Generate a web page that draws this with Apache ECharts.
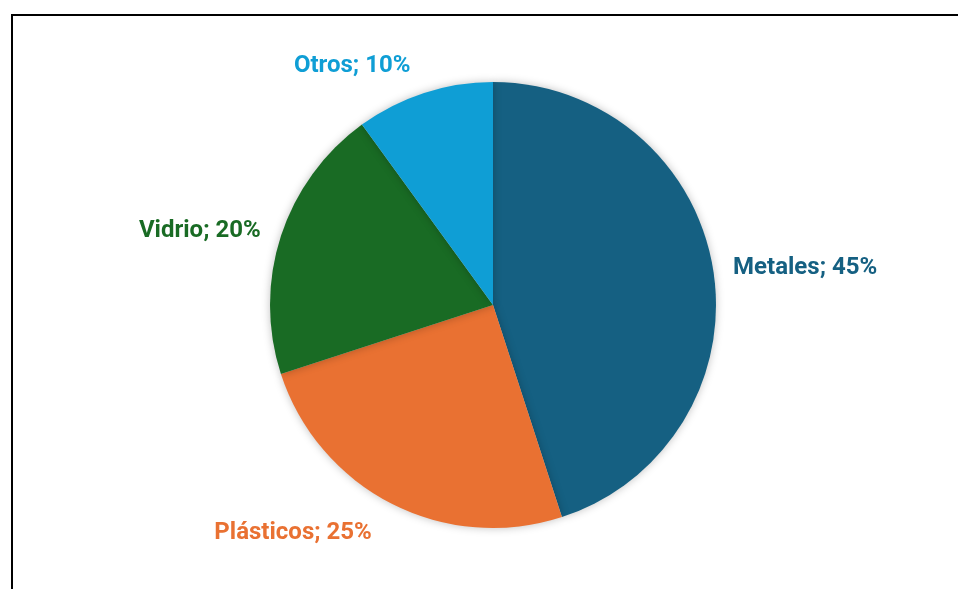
<!DOCTYPE html>
<html>
<head>
<meta charset="utf-8">
<script src="https://cdn.jsdelivr.net/npm/echarts@6/dist/echarts.min.js"></script>
<style>
  html, body { margin: 0; padding: 0; background: #fff; overflow: hidden; }
  #frame { position: absolute; left: 11px; top: 14px; width: 1000px; height: 640px; border: 2px solid #000; box-sizing: border-box; }
  #chart { position: absolute; left: 0; top: 0; width: 958px; height: 589px; }
</style>
</head>
<body>
<div id="frame"></div>
<div id="chart"></div>
<script>
// Composition by material (share of total, %)
const categories = ['Metales', 'Plásticos', 'Vidrio', 'Otros'];
const shares = [45, 25, 20, 10];
const colors = ['#156082', '#E97132', '#196B24', '#0F9ED5'];
// radial offset of each label from the rim
const labelGap = [15, 33, 16, 28];

const chart = echarts.init(document.getElementById('chart'));
chart.setOption({
  animation: false,
  series: [{
    type: 'pie',
    center: [493, 305],
    radius: 223,
    startAngle: 90,
    clockwise: true,
    data: categories.map((name, i) => ({
      name,
      value: shares[i],
      itemStyle: { color: colors[i] },
      label: { color: colors[i] },
      labelLine: { length: labelGap[i], length2: 0 }
    })),
    itemStyle: {
      shadowBlur: 8,
      shadowColor: 'rgba(0,0,0,0.25)'
    },
    label: {
      show: true,
      position: 'outside',
      formatter: p => p.name + '; ' + p.value + '%',
      fontFamily: 'Roboto',
      fontWeight: 'bold',
      fontSize: 24
    },
    labelLine: { show: false }
  }]
});
</script>
</body>
</html>
